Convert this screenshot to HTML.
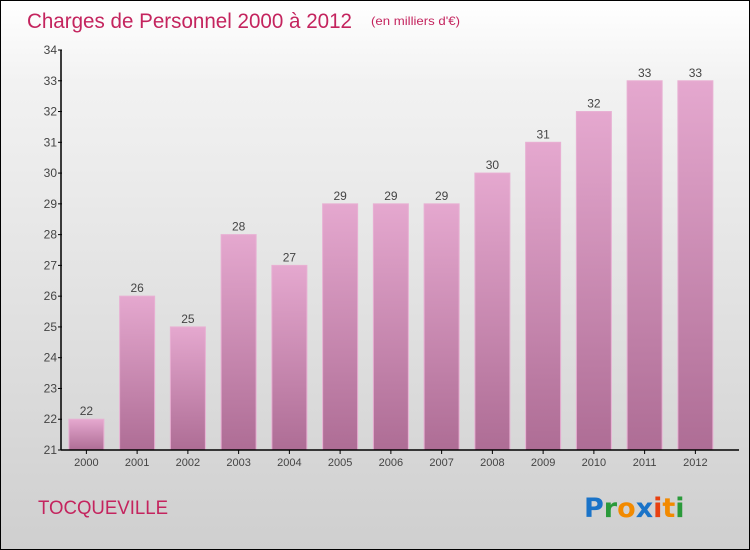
<!DOCTYPE html>
<html><head><meta charset="utf-8"><style>
body{margin:0}
#c{position:relative;width:748px;height:548px;border:1px solid #000;background:linear-gradient(#ffffff,#f2f2f2 15%,#cfcfcf);font-family:"Liberation Sans","DejaVu Sans",sans-serif;overflow:hidden}
</style></head><body>
<div id="c">
<svg id="s" width="748" height="548">
<defs><linearGradient id="bg" x1="0" y1="0" x2="0" y2="1"><stop offset="0" stop-color="#e5a8cf"/><stop offset="1" stop-color="#ae6d95"/></linearGradient></defs>
<text x="26" y="27" font-size="21" fill="#c4245e" textLength="325" lengthAdjust="spacingAndGlyphs">Charges de Personnel 2000 à 2012</text>
<text x="370" y="24" font-size="12" fill="#c4245e" textLength="89" lengthAdjust="spacingAndGlyphs">(en milliers d'€)</text>
<text x="37" y="513" font-size="19" fill="#c4245e" textLength="130" lengthAdjust="spacingAndGlyphs">TOCQUEVILLE</text>
<g font-size="27" font-weight="bold" font-family="'DejaVu Sans',sans-serif">
<text x="583" y="516"><tspan fill="#1a73c8">P</tspan><tspan fill="#2a9a3a">r</tspan><tspan fill="#f28a00">o</tspan><tspan fill="#1a73c8">x</tspan><tspan fill="#e84010">i</tspan><tspan fill="#f28a00">t</tspan><tspan fill="#2a9a3a">i</tspan></text></g>
<g id="plot"></g>
</svg>
</div>
<script>
const categories=["2000","2001","2002","2003","2004","2005","2006","2007","2008","2009","2010","2011","2012"];
const values=[22,26,25,28,27,29,29,29,30,31,32,33,33];
const yTicks=[21,22,23,24,25,26,27,28,29,30,31,32,33,34];
const NS="http://www.w3.org/2000/svg";
const g=document.getElementById('plot');
const y0=449,y1=49,vmin=21,vmax=34,xl=60,band=50.75,bw=35;
const y=v=>y0-(v-vmin)/(vmax-vmin)*(y0-y1);
const xc=i=>xl+band*(i+0.5);
function mk(t,a){const e=document.createElementNS(NS,t);for(const k in a)e.setAttribute(k,a[k]);g.appendChild(e);return e;}
values.forEach((v,i)=>{
 const r=mk('rect',{x:xc(i)-bw/2,y:y(v),width:bw,height:y0-y(v),fill:'url(#bg)',stroke:'#e8b0d3','stroke-width':1});
 
 
 const t=mk('text',{x:xc(i),y:y(v)-4,'font-size':12,'text-anchor':'middle',fill:'#444'});
 t.textContent=v;
 
 
 const l=mk('text',{x:xc(i),y:y0+16,'font-size':11,'text-anchor':'middle',fill:'#444'});
 l.textContent=categories[i];
 
 
 const tk=mk('line',{x1:xc(i),x2:xc(i),y1:y0,y2:y0+4,stroke:'#000'});
 
 
});
yTicks.forEach(v=>{
 const t=mk('text',{x:xl-4,y:y(v)+4,'font-size':12,'text-anchor':'end',fill:'#444'});
 t.textContent=v;
 
 
 const tk=mk('line',{x1:xl-3,x2:xl+1,y1:y(v),y2:y(v),stroke:'#000'});
 
 
});
const ya=mk('line',{x1:xl,x2:xl,y1:y1,y2:y0,stroke:'#000','stroke-width':1.5});


const xa=mk('line',{x1:xl,x2:738,y1:y0,y2:y0,stroke:'#000','stroke-width':1.5});


</script>
</body></html>
